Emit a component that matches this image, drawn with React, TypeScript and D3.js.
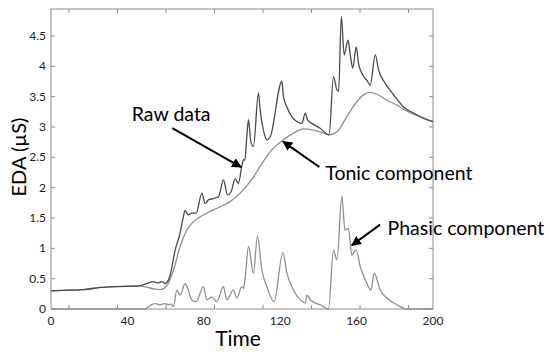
import React, { useEffect, useRef } from 'react';
import * as d3 from 'd3';

// values (time, EDA in µS)
const rawData: [number, number][] = [
  [0, 0.30], [10, 0.31], [17, 0.32], [26, 0.355], [34, 0.37], [46, 0.38], [50, 0.42],
  [53.6, 0.45], [56, 0.43], [58, 0.45], [59.7, 0.42], [61.5, 0.48], [62.4, 0.56],
  [65, 0.97], [67.6, 1.25], [69.3, 1.52], [70.2, 1.62], [71.9, 1.55], [73.7, 1.58],
  [76, 1.58], [79, 1.91], [80.7, 1.74], [82.4, 1.80], [85, 1.82], [87.7, 1.85],
  [90.3, 2.13], [92.4, 1.88], [94.5, 1.95], [96.4, 2.15], [98.1, 2.07], [99.9, 2.35],
  [100.8, 2.46], [101.5, 2.45], [102.5, 2.84], [103.4, 3.12], [104.6, 2.76], [106, 2.68],
  [108.6, 3.56], [109.5, 3.28], [111.2, 2.95], [113, 2.79], [114.8, 2.84], [120.9, 3.75],
  [121.7, 3.50], [123.5, 3.33], [126.1, 3.17], [128.7, 3.09], [131.4, 3.06], [133.1, 3.23],
  [134.3, 3.12], [136.6, 3.06], [140.9, 2.98], [145.6, 2.87], [147.9, 3.83], [149.7, 3.61],
  [150.6, 3.59], [152, 4.82], [153.5, 4.19], [155.5, 4.43], [156.7, 4.19], [158, 3.97],
  [159.8, 4.32], [161, 4.05], [162.8, 3.88], [165.4, 3.77], [167.1, 3.69], [169.8, 4.19],
  [171.5, 3.94], [175, 3.72], [179.4, 3.53], [184.6, 3.33], [189.8, 3.23], [195, 3.14],
  [200, 3.09],
];

const tonicData: [number, number][] = [
  [0, 0.30], [10, 0.31], [17, 0.32], [26, 0.355], [34, 0.37], [46, 0.38], [50, 0.36],
  [54, 0.33], [57.1, 0.32], [60.6, 0.38], [64.1, 0.64], [67.6, 1.03], [71.1, 1.30],
  [74.6, 1.44], [79.8, 1.55], [86.8, 1.66], [93.8, 1.77], [99, 1.91], [104.3, 2.10],
  [109.5, 2.35], [114.7, 2.59], [121.7, 2.79], [127, 2.90], [132.2, 2.97], [137.4, 2.95],
  [142.7, 2.90], [145.8, 2.87], [149.7, 2.92], [154.9, 3.17], [160.2, 3.42], [163.6, 3.53],
  [166.8, 3.57], [170.7, 3.54], [175.9, 3.44], [181.1, 3.36], [186.4, 3.26], [191.6, 3.19],
  [200, 3.09],
];

const phasicData: [number, number][] = [
  [0, 0], [49.3, 0], [52, 0.06], [54.5, 0.09], [57, 0.07], [59.7, 0.09], [61.5, 0.07],
  [63, 0.08], [64.1, 0.04], [65.9, 0.31], [67.6, 0.23], [70.2, 0.42], [71.5, 0.35],
  [73.7, 0.15], [76, 0.12], [79.8, 0.37], [81.6, 0.15], [84.2, 0.20], [86.8, 0.12],
  [90.3, 0.37], [92, 0.15], [95.5, 0.31], [97.3, 0.18], [99.9, 0.37], [100.8, 0.34],
  [101.7, 0.53], [103.4, 1.03], [106, 0.59], [108.1, 1.20], [110.4, 0.64], [113, 0.37],
  [116.8, 0.12], [121.4, 0.93], [123.5, 0.59], [127, 0.31], [130.5, 0.15], [133.1, 0.10],
  [134, 0.23], [136, 0.14], [141, 0.07], [145.3, 0], [147.9, 0.97], [149.7, 0.81],
  [152.3, 1.86], [153.9, 1.30], [155.7, 1.33], [157.5, 0.89], [159.8, 0.97], [161.9, 0.70],
  [165.4, 0.42], [167.5, 0.31], [169.2, 0.59], [172.4, 0.31], [175.9, 0.18], [181.1, 0.07],
  [186.4, 0], [200, 0],
];

const xTickLabels = [0, 40, 80, 120, 160, 200];
const xTickMarks = [9.4, 34.8, 60.2, 85.6, 111, 136.4, 161.8, 187.2];
const yTicks = [0, 0.5, 1, 1.5, 2, 2.5, 3, 3.5, 4, 4.5];

// annotations: label text + arrow (from/to in data units)
const annotations = [
  { text: 'Raw data', tx: 42.3, ty: 3.1, from: [63.5, 2.98], to: [99.5, 2.34] },
  { text: 'Tonic component', tx: 143.6, ty: 2.13, from: [140.5, 2.34], to: [121.5, 2.76] },
  { text: 'Phasic component', tx: 176.2, ty: 1.22, from: [172.3, 1.39], to: [157.5, 1.05] },
];

export default function App() {
  const svgRef = useRef<SVGSVGElement>(null);

  useEffect(() => {
    if (!svgRef.current) return;
    const svg = d3.select(svgRef.current);
    svg.selectAll('*').remove();

    const left = 51, right = 433, top = 9, bottom = 309;
    const x = d3.scaleLinear().domain([0, 200]).range([left, right]);
    const y = d3.scaleLinear().domain([0, 4.945]).range([bottom, top]);

    const font = 'Lato, "Noto Sans", sans-serif';

    const defs = svg.append('defs');
    defs.append('marker')
      .attr('id', 'arrowhead')
      .attr('viewBox', '0 0 10 10')
      .attr('refX', 9).attr('refY', 5)
      .attr('markerWidth', 5).attr('markerHeight', 5)
      .attr('orient', 'auto')
      .append('path')
      .attr('d', 'M0,0 L10,5 L0,10 z')
      .attr('fill', '#000');

    // frame
    svg.append('rect')
      .attr('x', left).attr('y', top)
      .attr('width', right - left).attr('height', bottom - top)
      .attr('fill', 'none')
      .attr('stroke', '#8c8c8c')
      .attr('stroke-width', 1);

    // inward tick marks
    const tickLen = 4;
    xTickMarks.forEach(t => {
      svg.append('line').attr('x1', x(t)).attr('x2', x(t)).attr('y1', bottom).attr('y2', bottom - tickLen)
        .attr('stroke', '#8c8c8c');
      svg.append('line').attr('x1', x(t)).attr('x2', x(t)).attr('y1', top).attr('y2', top + tickLen)
        .attr('stroke', '#8c8c8c');
    });
    yTicks.forEach(v => {
      svg.append('line').attr('x1', left).attr('x2', left + tickLen).attr('y1', y(v)).attr('y2', y(v))
        .attr('stroke', '#8c8c8c');
      svg.append('line').attr('x1', right).attr('x2', right - tickLen).attr('y1', y(v)).attr('y2', y(v))
        .attr('stroke', '#8c8c8c');
    });

    // tick labels
    svg.append('g').selectAll('text').data(xTickLabels).join('text')
      .attr('x', d => x(d)).attr('y', bottom + 16)
      .attr('text-anchor', 'middle')
      .attr('font-family', font).attr('font-size', 12).attr('fill', '#222')
      .text(d => d);
    svg.append('g').selectAll('text').data(yTicks).join('text')
      .attr('x', left - 5).attr('y', d => y(d) + 4)
      .attr('text-anchor', 'end')
      .attr('font-family', font).attr('font-size', 12).attr('fill', '#222')
      .text(d => d);

    // axis titles
    svg.append('text')
      .attr('x', 238).attr('y', 346)
      .attr('text-anchor', 'middle')
      .attr('font-family', font).attr('font-size', 21).attr('fill', '#000')
      .text('Time');
    svg.append('text')
      .attr('transform', `translate(26,${(top + bottom) / 2 - 2}) rotate(-90)`)
      .attr('text-anchor', 'middle')
      .attr('font-family', font).attr('font-size', 20).attr('fill', '#000')
      .text('EDA (µS)');

    const line = d3.line<[number, number]>()
      .x(d => x(d[0]))
      .y(d => y(d[1]))
      .curve(d3.curveMonotoneX);

    svg.append('path').datum(phasicData)
      .attr('fill', 'none').attr('stroke', '#8f8f8f').attr('stroke-width', 1.3)
      .attr('d', line);
    svg.append('path').datum(tonicData)
      .attr('fill', 'none').attr('stroke', '#8f8f8f').attr('stroke-width', 1.3)
      .attr('d', line);
    svg.append('path').datum(rawData)
      .attr('fill', 'none').attr('stroke', '#4a4a4a').attr('stroke-width', 1.3)
      .attr('d', line);

    // annotations
    annotations.forEach(a => {
      svg.append('line')
        .attr('x1', x(a.from[0])).attr('y1', y(a.from[1]))
        .attr('x2', x(a.to[0])).attr('y2', y(a.to[1]))
        .attr('stroke', '#000').attr('stroke-width', 2)
        .attr('marker-end', 'url(#arrowhead)');
      svg.append('text')
        .attr('x', x(a.tx)).attr('y', y(a.ty))
        .attr('font-family', font).attr('font-size', 19.5).attr('fill', '#000')
        .text(a.text);
    });
  }, []);

  return (
    <svg
      ref={svgRef}
      width={550}
      height={354}
      style={{ position: 'absolute', left: 0, top: 0, background: '#fff' }}
    />
  );
}
